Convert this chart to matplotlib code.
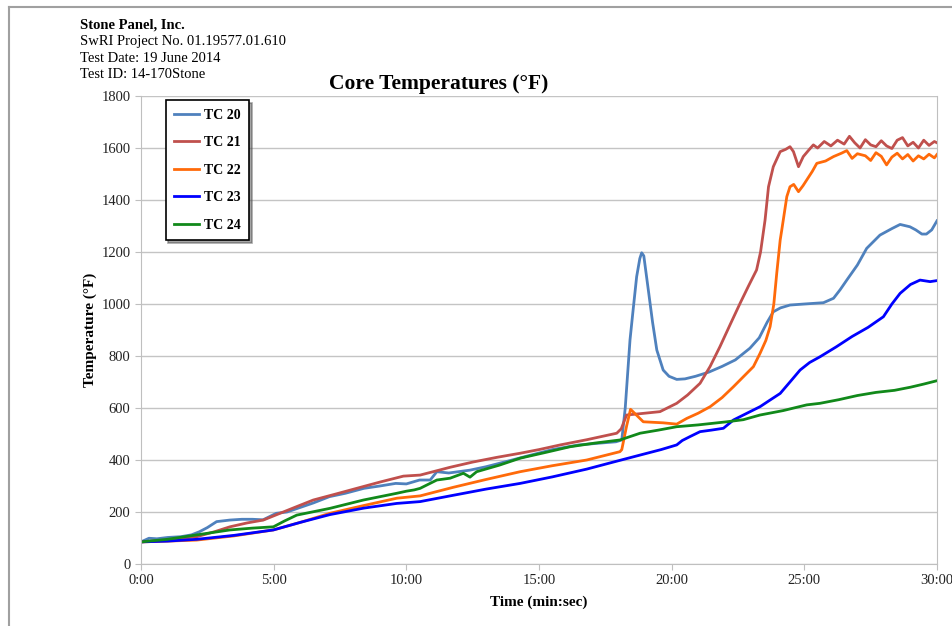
import numpy as np
import matplotlib
matplotlib.use("Agg")
import matplotlib.pyplot as plt
from matplotlib.lines import Line2D
from matplotlib.ticker import FuncFormatter, MultipleLocator

plt.rcParams['font.family'] = ['Liberation Serif', 'DejaVu Serif']

# time in minutes, temperatures in deg F
t20 = [0, 0.3, 0.6, 1.0, 1.5, 1.9, 2.2, 2.5, 2.85, 3.35, 3.8, 4.2, 4.6, 5.1, 5.5, 5.9,
       6.5, 7.1, 7.7, 8.4, 9.0, 9.6, 10.0, 10.5, 10.9, 11.15, 11.6, 12.4, 13.0, 13.8,
       14.7, 15.5, 16.5, 17.3, 17.9, 18.12, 18.25, 18.43, 18.55, 18.68, 18.8, 18.87,
       18.95, 19.12, 19.28, 19.44, 19.68, 19.9, 20.19, 20.5, 20.9, 21.4, 21.9, 22.4,
       22.95, 23.3, 23.6, 23.83, 24.1, 24.46, 25.0, 25.72, 26.1, 26.35, 26.6, 27.0,
       27.35, 27.85, 28.3, 28.61, 28.98, 29.2, 29.43, 29.6, 29.8, 30.0]
tc20 = [85, 99, 97, 102, 105, 112, 124, 140, 163, 169, 172, 172, 170, 195, 200, 214,
        235, 259, 272, 291, 300, 310, 308, 323, 323, 355, 350, 361, 374, 395,
        419, 440, 458, 465, 470, 477, 600, 862, 980, 1105, 1175, 1197,
        1185, 1054, 930, 823, 746, 722, 710, 712, 722, 738, 760, 785,
        830, 870, 930, 970, 985, 996, 1000, 1005, 1022, 1055, 1092, 1150,
        1214, 1265, 1290, 1306, 1297, 1285, 1269, 1269, 1285, 1320]

t21 = [0, 1.0, 2.1, 2.8, 3.35, 4.0, 4.61, 5.24, 5.8, 6.49, 7.3, 8.13, 9.0, 9.89, 10.52,
       11.65, 12.5, 13.4, 14.29, 15.0, 15.8, 16.8, 17.93, 18.1, 18.3, 18.8, 19.56, 20.19,
       20.6, 21.07, 21.45, 21.82, 22.2, 22.58, 22.9, 23.2, 23.35, 23.52, 23.65, 23.83,
       24.09, 24.3, 24.46, 24.59, 24.78, 24.96, 25.15, 25.34,
       25.5, 25.75, 26.0, 26.25, 26.5, 26.7, 26.9, 27.1, 27.3, 27.5, 27.7, 27.9, 28.1,
       28.3, 28.5, 28.7, 28.9, 29.1, 29.3, 29.5, 29.7, 29.9, 30.0]
tc21 = [85, 92, 105, 125, 143, 158, 169, 195, 218, 246, 268, 291, 315, 338, 342,
        372, 392, 410, 426, 440, 458, 478, 503, 520, 573, 578, 586, 618,
        650, 695, 760, 836, 920, 1003, 1070, 1131, 1200, 1323, 1451, 1528,
        1586, 1595, 1605, 1586, 1528, 1567, 1590, 1612,
        1600, 1625, 1608, 1630, 1615, 1645, 1620, 1600, 1632, 1612, 1605, 1628, 1608,
        1598, 1630, 1640, 1608, 1622, 1600, 1630, 1610, 1625, 1620]

t22 = [0, 1.0, 2.1, 3.5, 4.99, 6.0, 7.12, 8.4, 9.64, 10.52, 11.77, 13.0, 14.29, 15.5,
       16.8, 18.05, 18.12, 18.3, 18.45, 18.6, 18.93, 19.3, 19.68, 20.19, 20.57, 21.0,
       21.45, 21.9, 22.33, 22.7, 23.08, 23.33, 23.55, 23.71, 23.85, 23.96, 24.09, 24.15,
       24.34, 24.46, 24.6, 24.78, 24.95, 25.09, 25.3, 25.47, 25.8, 26.1,
       26.4, 26.6, 26.8, 27.0, 27.3, 27.5, 27.7, 27.9, 28.1, 28.3, 28.5, 28.7, 28.9,
       29.1, 29.3, 29.5, 29.7, 29.9, 30.0]
tc22 = [85, 88, 92, 108, 131, 160, 195, 225, 253, 262, 295, 325, 355, 378,
        400, 432, 440, 530, 595, 580, 547, 545, 543, 538, 560, 580,
        605, 640, 682, 720, 759, 810, 860, 913, 1000, 1118, 1246, 1285,
        1413, 1451, 1460, 1432, 1455, 1477, 1510, 1541, 1550, 1567,
        1580, 1590, 1560, 1578, 1570, 1552, 1582, 1568, 1535, 1565, 1580, 1558, 1575,
        1550, 1570, 1558, 1576, 1562, 1575]

t23 = [0, 1.0, 2.1, 3.5, 4.99, 6.0, 7.12, 8.4, 9.64, 10.52, 11.65, 13.0, 14.29, 15.5,
       16.8, 17.8, 18.81, 19.6, 20.19, 20.4, 20.69, 21.07, 21.5, 21.95, 22.33, 22.8,
       23.33, 23.7, 24.09, 24.5, 24.84, 25.2, 25.59, 26.2, 26.8, 27.4, 27.98, 28.3,
       28.61, 29.0, 29.36, 29.74, 30.0]
tc23 = [85, 88, 95, 110, 131, 160, 190, 215, 233, 240, 262, 288, 310, 335,
        365, 392, 419, 440, 458, 475, 490, 509, 515, 522, 554, 578,
        605, 630, 656, 705, 746, 775, 797, 835, 875, 910, 951, 1000,
        1041, 1075, 1092, 1086, 1090]

t24 = [0, 1.0, 2.1, 3.35, 4.2, 4.99, 5.4, 5.87, 7.12, 8.38, 9.64, 10.0, 10.3, 10.52,
       11.15, 11.65, 12.15, 12.4, 12.65, 13.5, 14.29, 15.2, 16.17, 17.1, 18.05, 18.81,
       19.5, 20.19, 21.0, 22.08, 22.7, 23.33, 24.2, 25.09, 25.59, 26.3, 27.0, 27.7,
       28.4, 29.0, 29.5, 30.0]
tc24 = [85, 95, 112, 131, 138, 143, 165, 188, 214, 246, 272, 280, 285, 291,
        323, 330, 349, 334, 355, 380, 407, 428, 451, 465, 477, 503,
        515, 528, 535, 547, 555, 573, 590, 612, 618, 632, 648, 660,
        668, 680, 692, 705]

series = [
    ("TC 20", t20, tc20, "#4F81BD"),
    ("TC 21", t21, tc21, "#C0504D"),
    ("TC 22", t22, tc22, "#FF6A0A"),
    ("TC 23", t23, tc23, "#0000FF"),
    ("TC 24", t24, tc24, "#11891A"),
]

fig = plt.figure(figsize=(9.53, 6.26), dpi=100)
ax = fig.add_axes([141/953, 62/626, 796/953, 468/626])

for name, t, v, c in series:
    ax.plot(t, v, color=c, lw=2, label=name)

ax.set_xlim(0, 30)
ax.set_ylim(0, 1800)
ax.xaxis.set_major_locator(MultipleLocator(5))
ax.yaxis.set_major_locator(MultipleLocator(200))
ax.xaxis.set_major_formatter(FuncFormatter(lambda x, p: "%d:00" % int(round(x))))
ax.grid(axis='y', color='#C4C4C4', lw=1)
ax.set_axisbelow(True)
for s in ['left', 'bottom', 'right']:
    ax.spines[s].set_color('#BFBFBF')
ax.spines['top'].set_visible(False)
ax.tick_params(colors='#BFBFBF', labelcolor='#222222', labelsize=10.5, length=4)

ax.set_xlabel("Time (min:sec)", fontsize=11, fontweight='bold', labelpad=6)
ax.set_ylabel("Temperature (°F)", fontsize=11, fontweight='bold', labelpad=3)

leg = ax.legend(loc='upper left', bbox_to_anchor=(0.031, 0.991), borderaxespad=0,
                fancybox=False, shadow=True, edgecolor='black', framealpha=1,
                handlelength=1.8, handletextpad=0.35, labelspacing=1.05,
                borderpad=0.6, prop={'weight': 'bold', 'size': 10})
leg.get_frame().set_linewidth(1.2)

fig.text(439/953, 1 - 84/626, "Core Temperatures (°F)", ha='center', va='center',
         fontsize=15.5, fontweight='bold')

hdr = ["SwRI Project No. 01.19577.01.610", "Test Date: 19 June 2014", "Test ID: 14-170Stone"]
fig.text(80/953, 1 - 25/626, "Stone Panel, Inc.", fontsize=10.5, fontweight='bold', va='center')
for i, line in enumerate(hdr):
    fig.text(80/953, 1 - (42 + 16*i)/626, line, fontsize=10.5, va='center')

# page frame
fig.add_artist(Line2D([9/953, 9/953], [0, 1 - 7/626], color='#A0A0A0', lw=1.5))
fig.add_artist(Line2D([9/953, 1], [1 - 7/626, 1 - 7/626], color='#A0A0A0', lw=1.5))

fig.savefig("out.png", dpi=100)
